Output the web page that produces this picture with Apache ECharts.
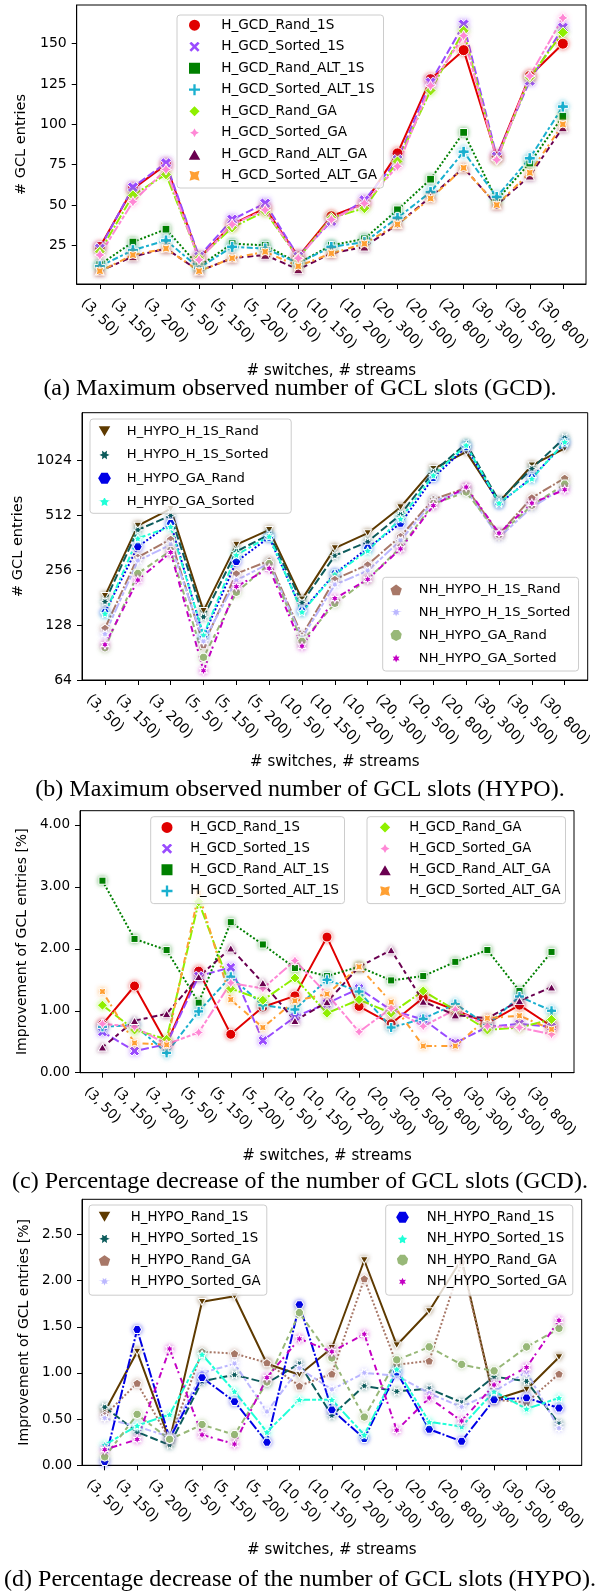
<!DOCTYPE html>
<html>
<head>
<meta charset="utf-8">
<script src="https://cdn.jsdelivr.net/npm/echarts@6/dist/echarts.min.js"></script>
<style>
  html, body { margin: 0; padding: 0; background: #fff; }
  #main { width: 600px; height: 1593px; }
</style>
</head>
<body>
<div id="main"></div>
<script>
// ---- data ----
var cats = ['(3, 50)', '(3, 150)', '(3, 200)', '(5, 50)', '(5, 150)', '(5, 200)', '(10, 50)', '(10, 150)',
            '(10, 200)', '(20, 300)', '(20, 500)', '(20, 800)', '(30, 300)', '(30, 500)', '(30, 800)'];

// (a) max GCL slots, GCD
var gcdNames = ['H_GCD_Rand_1S', 'H_GCD_Sorted_1S', 'H_GCD_Rand_ALT_1S', 'H_GCD_Sorted_ALT_1S',
                'H_GCD_Rand_GA', 'H_GCD_Sorted_GA', 'H_GCD_Rand_ALT_GA', 'H_GCD_Sorted_ALT_GA'];
var gcdRand1S      = [24, 60, 75, 17, 38, 48, 18, 43, 51, 82, 128, 146, 80, 130, 150];
var gcdSorted1S    = [23, 61, 76, 18, 41, 51, 18, 40, 53, 78, 126, 162, 80, 127, 160];
var gcdRandAlt1S   = [13, 27, 35, 12, 26, 25, 14, 25, 29, 47, 66, 95, 53, 76, 105];
var gcdSortedAlt1S = [12, 22, 28, 11, 24, 23, 14, 24, 27, 42, 58, 83, 55, 79, 111];
var gcdRandGA      = [21, 56, 69, 17, 36, 46, 17, 42, 48, 77, 121, 158, 78, 129, 157];
var gcdSortedGA    = [19, 52, 72, 16, 38, 47, 17, 41, 51, 74, 124, 155, 78, 130, 166];
var gcdRandAltGA   = [9, 18, 23, 9, 17, 19, 10, 20, 24, 38, 55, 73, 50, 68, 98];
var gcdSortedAltGA = [9, 19, 23, 9, 17, 21, 12, 20, 26, 38, 54, 73, 50, 70, 100];

// (b) max GCL slots, HYPO (log2 axis)
var hypoNames = ['H_HYPO_H_1S_Rand', 'H_HYPO_H_1S_Sorted', 'H_HYPO_GA_Rand', 'H_HYPO_GA_Sorted',
                 'NH_HYPO_H_1S_Rand', 'NH_HYPO_H_1S_Sorted', 'NH_HYPO_GA_Rand', 'NH_HYPO_GA_Sorted'];
var hypoH1SRand   = [185, 449, 555, 153, 353, 425, 177, 338, 408, 566, 918, 1138, 604, 961, 1190];
var hypoH1SSorted = [172, 425, 510, 142, 324, 401, 170, 307, 366, 516, 884, 1265, 612, 922, 1360];
var hypoGARand    = [150, 344, 462, 111, 285, 387, 153, 245, 338, 462, 822, 1212, 591, 822, 1276];
var hypoGASorted  = [148, 382, 443, 113, 310, 392, 151, 243, 327, 489, 847, 1238, 597, 812, 1290];
var nhH1SRand     = [123, 301, 378, 100, 245, 288, 112, 228, 274, 392, 625, 721, 404, 638, 818];
var nhH1SSorted   = [114, 288, 353, 104, 225, 279, 109, 213, 254, 372, 610, 700, 387, 566, 730];
var nhGARand      = [96, 245, 327, 85, 193, 277, 104, 168, 228, 341, 591, 685, 400, 579, 756];
var nhGASorted    = [100, 226, 320, 72, 208, 262, 98, 179, 228, 335, 578, 730, 408, 596, 706];

// (c) percentage decrease, GCD
var impRand1S      = [0.78, 1.40, 0.47, 1.64, 0.62, 1.06, 1.24, 2.19, 1.07, 0.79, 1.21, 1.01, 0.80, 1.09, 0.75];
var impSorted1S    = [0.66, 0.35, 0.46, 1.56, 1.70, 0.52, 0.90, 1.12, 1.36, 1.01, 0.86, 0.48, 0.74, 0.79, 0.74];
var impRandAlt1S   = [3.10, 2.16, 1.98, 1.13, 2.43, 2.07, 1.69, 1.56, 1.71, 1.49, 1.56, 1.79, 1.98, 1.32, 1.95];
var impSortedAlt1S = [0.74, 0.77, 0.32, 0.99, 1.55, 1.09, 1.02, 1.50, 1.31, 0.73, 0.87, 1.11, 0.77, 1.23, 1.00];
var impRandGA      = [1.09, 0.69, 0.54, 2.76, 1.36, 1.17, 1.53, 0.96, 1.18, 0.96, 1.32, 1.01, 0.69, 0.73, 0.86];
var impSortedGA    = [0.79, 0.74, 0.46, 0.65, 1.45, 1.36, 1.81, 1.27, 0.66, 1.04, 0.75, 1.02, 0.75, 0.73, 0.62];
var impRandAltGA   = [0.41, 0.84, 0.95, 1.55, 2.01, 1.45, 0.84, 1.14, 1.71, 1.98, 1.15, 0.93, 0.88, 1.16, 1.38];
var impSortedAltGA = [1.31, 0.48, 0.45, 2.90, 1.18, 0.73, 1.16, 1.27, 1.71, 1.14, 0.43, 0.43, 0.88, 0.92, 0.70];

// (d) percentage decrease, HYPO
var decNames = ['H_HYPO_Rand_1S', 'H_HYPO_Sorted_1S', 'H_HYPO_Rand_GA', 'H_HYPO_Sorted_GA',
                'NH_HYPO_Rand_1S', 'NH_HYPO_Sorted_1S', 'NH_HYPO_Rand_GA', 'NH_HYPO_Sorted_GA'];
var decHRand1S    = [0.58, 1.23, 0.27, 1.77, 1.83, 1.10, 0.98, 1.27, 2.22, 1.30, 1.67, 2.23, 0.71, 0.82, 1.17];
var decHSorted1S  = [0.63, 0.36, 0.22, 0.91, 0.98, 0.89, 1.10, 0.54, 0.86, 0.80, 0.83, 0.68, 0.96, 0.91, 0.45];
var decHRandGA    = [0.54, 0.89, 0.28, 1.23, 1.21, 1.11, 0.86, 0.99, 2.02, 1.09, 1.13, 2.20, 0.71, 0.68, 0.99];
var decHSortedGA  = [0.51, 0.42, 0.31, 1.00, 1.10, 0.58, 1.05, 0.82, 1.00, 0.97, 0.78, 0.63, 0.80, 1.01, 0.40];
var decNHRand1S   = [0.04, 1.47, 0.29, 0.95, 0.69, 0.25, 1.74, 0.60, 0.29, 1.01, 0.39, 0.26, 0.71, 0.73, 0.62];
var decNHSorted1S = [0.22, 0.43, 0.55, 1.20, 0.80, 0.36, 0.71, 0.71, 0.33, 1.04, 0.47, 0.42, 0.80, 0.61, 0.73];
var decNHRandGA   = [0.09, 0.55, 0.28, 0.44, 0.33, 0.90, 1.65, 1.16, 0.52, 1.14, 1.28, 1.09, 1.02, 1.28, 1.48];
var decNHSortedGA = [0.17, 0.28, 1.26, 0.33, 0.23, 0.95, 1.37, 1.23, 1.42, 0.38, 0.73, 0.48, 0.87, 1.06, 1.57];

// ---- markers (seaborn style) ----
function fromPts(pts) {
    var xs = pts.map(function (p) { return p[0]; }), ys = pts.map(function (p) { return p[1]; });
    return {
        symbol: 'path://M' + pts.map(function (p) { return (p[0] * 20).toFixed(2) + ',' + (-p[1] * 20).toFixed(2); }).join('L') + 'Z',
        fw: Math.max.apply(null, xs) - Math.min.apply(null, xs),
        fh: Math.max.apply(null, ys) - Math.min.apply(null, ys)
    };
}
function poly(n, star, rot) {
    var k = star ? 2 * n : n, pts = [];
    for (var i = 0; i < k; i++) {
        var r = (star && i % 2) ? 0.25 : 0.5;
        var t = Math.PI / 2 + 2 * Math.PI * i / k + rot * Math.PI / 180;
        pts.push([r * Math.cos(t), r * Math.sin(t)]);
    }
    return fromPts(pts);
}
function scaled(arr, s) { return arr.map(function (p) { return [p[0] / s, p[1] / s]; }); }
var mk = {
    circle: { symbol: 'circle', fw: 1, fh: 1 },
    x: fromPts(scaled([[-1, -2], [0, -1], [1, -2], [2, -1], [1, 0], [2, 1], [1, 2], [0, 1], [-1, 2], [-2, 1], [-1, 0], [-2, -1]], 4)),
    plus: fromPts(scaled([[-1, -3], [-1, -1], [-3, -1], [-3, 1], [-1, 1], [-1, 3], [1, 3], [1, 1], [3, 1], [3, -1], [1, -1], [1, -3]], 6)),
    square: poly(4, false, 45),
    diamond: poly(4, false, 0),
    star4: poly(4, true, 0),
    triUp: poly(3, false, 0),
    star4r: poly(4, true, 45),
    triDown: poly(3, false, 180),
    star6r: poly(6, true, 30),
    hexagon: poly(6, false, 30),
    star5: poly(5, true, 0),
    pentagon: poly(5, false, 0),
    star7: poly(7, true, 360 / 14),
    heptagon: poly(7, false, 360 / 14),
    star6: poly(6, true, 0)
};
var dashes = ['solid', [4, 1.5], [1, 1], [3, 1.25, 1.5, 1.25], [5, 1, 1, 1], [5, 1, 2, 1, 2, 1], [2, 2, 3, 1.5], [1, 2.5, 3, 1.2]];

var gcdColors = ['#e00000', '#9a4cff', '#008000', '#1ab0cf', '#8ff000', '#ff88d6', '#6a0050', '#ffa033'];
var gcdMarkers = [mk.circle, mk.x, mk.square, mk.plus, mk.diamond, mk.star4, mk.triUp, mk.star4r];

var hypoColors = ['#5e3a00', '#0d5c5c', '#0000e6', '#20ffd8', '#a87868', '#bcb8ff', '#98b878', '#c400c4'];
var hypoMarkers = [mk.triDown, mk.star6r, mk.hexagon, mk.star5, mk.pentagon, mk.star7, mk.heptagon, mk.star6];

// (d) uses the same palette, in a different order
var decColors = [hypoColors[0], hypoColors[1], hypoColors[4], hypoColors[5], hypoColors[2], hypoColors[3], hypoColors[6], hypoColors[7]];
var decMarkers = [hypoMarkers[0], hypoMarkers[1], hypoMarkers[4], hypoMarkers[5], hypoMarkers[2], hypoMarkers[3], hypoMarkers[6], hypoMarkers[7]];

var FONT = 'DejaVu Sans';
var idx = cats.map(function (c, i) { return i; });

function rgba(hex, a) {
    var n = parseInt(hex.slice(1), 16);
    return 'rgba(' + (n >> 16) + ',' + ((n >> 8) & 255) + ',' + (n & 255) + ',' + a + ')';
}

var ctx = document.createElement('canvas').getContext('2d');
function textW(s, size) { ctx.font = size + 'px "' + FONT + '"'; return ctx.measureText(s).width; }

function lineSeries(name, values, gi, color, marker, dash, size) {
    return {
        name: name, type: 'line', xAxisIndex: gi, yAxisIndex: gi,
        data: values.map(function (v, i) { return [i, v]; }),
        symbol: marker.symbol,
        symbolSize: [size * marker.fw, size * marker.fh],
        showAllSymbol: true,
        lineStyle: { color: color, width: 2, type: dash === 'solid' ? 'solid' : dash.map(function (d) { return d * 2; }) },
        itemStyle: { color: color, borderColor: '#fff', borderWidth: 1, shadowColor: rgba(color, 0.5), shadowBlur: 4 },
        emphasis: { disabled: true }
    };
}

// rotated tick labels, centred on the tick like matplotlib (ha=center, va=top)
function xAxisFor(gi, fontSize, nameGap) {
    var widths = cats.map(function (c) { return textW(c, fontSize); });
    var lmin = Math.min.apply(null, widths);
    var rich = {};
    widths.forEach(function (w, i) {
        var p = 0.5 * (w - lmin);
        rich['s' + i] = { padding: [p, 0, 0, p], fontSize: fontSize, fontFamily: FONT, color: '#000' };
    });
    return {
        type: 'value', gridIndex: gi, min: -0.7, max: 14.7,
        splitLine: { show: false },
        axisLine: { show: true, onZero: false, lineStyle: { color: '#000', width: 1 } },
        axisTick: { show: true, customValues: idx, length: 5, lineStyle: { color: '#000' } },
        axisLabel: {
            customValues: idx, rotate: -45, align: 'center', verticalAlign: 'middle',
            margin: 12 + 0.3536 * (lmin + fontSize),
            formatter: function (v) { var k = Math.round(v); return '{s' + k + '|' + cats[k] + '}'; },
            rich: rich
        },
        name: '# switches, # streams', nameLocation: 'middle', nameGap: nameGap,
        nameTextStyle: { fontFamily: FONT, fontSize: 15, color: '#000' }
    };
}

function yBase(gi, fontSize, name, nameGap) {
    return {
        gridIndex: gi,
        splitLine: { show: false },
        axisLine: { show: true, onZero: false, lineStyle: { color: '#000', width: 1 } },
        axisTick: { show: true, length: 5, lineStyle: { color: '#000' } },
        axisLabel: { fontFamily: FONT, fontSize: fontSize, color: '#000', margin: 10 },
        name: name, nameLocation: 'middle', nameGap: nameGap,
        nameTextStyle: { fontFamily: FONT, fontSize: fontSize + 0.5, color: '#000' }
    };
}

// legend box laid out like the matplotlib one: box edges, marker centre x, text start x, first row y, row pitch
function legendFor(names, markers, box, markerX, textX, firstY, pitch, fontSize) {
    var rowH = fontSize + 0.4;
    var padL = markerX - box[0] - 10;
    var textPad = textX - (box[0] + padL + 25);
    var maxW = Math.max.apply(null, names.map(function (n) { return textW(n, fontSize); }));
    var padR = Math.max(2, box[2] - (textX + maxW));
    var lastY = firstY + pitch * (names.length - 1);
    var padT = firstY - box[1] - rowH / 2;
    var padB = box[3] - (lastY + rowH / 2);
    return {
        left: box[0], top: box[1], orient: 'vertical',
        itemWidth: 20, itemHeight: 13, itemGap: pitch - rowH,
        padding: [padT, padR, padB, padL], selectedMode: false,
        backgroundColor: 'rgba(255,255,255,0.8)', borderColor: '#cccccc', borderWidth: 1, borderRadius: 3,
        textStyle: { fontFamily: FONT, fontSize: fontSize, color: '#000', padding: [0, 0, 0, textPad] },
        data: names.map(function (n, i) { return { name: n, icon: markers[i].symbol }; })
    };
}

var gcdData = [gcdRand1S, gcdSorted1S, gcdRandAlt1S, gcdSortedAlt1S, gcdRandGA, gcdSortedGA, gcdRandAltGA, gcdSortedAltGA];
var hypoData = [hypoH1SRand, hypoH1SSorted, hypoGARand, hypoGASorted, nhH1SRand, nhH1SSorted, nhGARand, nhGASorted];
var impData = [impRand1S, impSorted1S, impRandAlt1S, impSortedAlt1S, impRandGA, impSortedGA, impRandAltGA, impSortedAltGA];
var decData = [decHRand1S, decHSorted1S, decHRandGA, decHSortedGA, decNHRand1S, decNHSorted1S, decNHRandGA, decNHSortedGA];

var series = [];
gcdData.forEach(function (d, i) { series.push(lineSeries(gcdNames[i], d, 0, gcdColors[i], gcdMarkers[i], dashes[i], 11)); });
hypoData.forEach(function (d, i) { series.push(lineSeries(hypoNames[i], d, 1, hypoColors[i], hypoMarkers[i], dashes[i], 9)); });
impData.forEach(function (d, i) { series.push(lineSeries(gcdNames[i], d, 2, gcdColors[i], gcdMarkers[i], dashes[i], 10)); });
decData.forEach(function (d, i) { series.push(lineSeries(decNames[i], d, 3, decColors[i], decMarkers[i], dashes[i], 9)); });

var capStyle = { fontFamily: 'Liberation Serif', fontSize: 24, fontWeight: 'normal', color: '#000' };

var yA = yBase(0, 14, '# GCL entries', 43);
yA.type = 'value'; yA.min = 1; yA.max = 174;
yA.axisTick.customValues = [25, 50, 75, 100, 125, 150];
yA.axisLabel.customValues = [25, 50, 75, 100, 125, 150];

var yB = yBase(1, 14, '# GCL entries', 47);
yB.type = 'log'; yB.logBase = 2; yB.min = 64; yB.max = 1866;
yB.axisLabel.showMaxLabel = false;
yB.axisLabel.formatter = function (v) { return String(Math.round(v)); };

var yC = yBase(2, 13.5, 'Improvement of GCL entries [%]', 47);
yC.type = 'value'; yC.min = 0; yC.max = 4.23; yC.interval = 1;
yC.axisLabel.showMaxLabel = false;
yC.axisLabel.formatter = function (v) { return v.toFixed(2); };

var yD = yBase(3, 13.5, 'Improvement of GCL entries [%]', 47);
yD.type = 'value'; yD.min = 0; yD.max = 2.88; yD.interval = 0.5;
yD.axisLabel.showMaxLabel = false;
yD.axisLabel.formatter = function (v) { return v.toFixed(2); };

var option = {
    animation: false,
    backgroundColor: '#fff',
    title: [
        { text: '(a) Maximum observed number of GCL slots (GCD).', left: 'center', top: 377, padding: 0, textStyle: capStyle },
        { text: '(b) Maximum observed number of GCL slots (HYPO).', left: 'center', top: 778, padding: 0, textStyle: capStyle },
        { text: '(c) Percentage decrease of the number of GCL slots (GCD).', left: 'center', top: 1170, padding: 0, textStyle: capStyle },
        { text: '(d) Percentage decrease of the number of GCL slots (HYPO).', left: 'center', top: 1568, padding: 0, textStyle: capStyle }
    ],
    grid: [
        { left: 76.7, top: 5, width: 509.3, height: 279, show: true, borderColor: '#000', borderWidth: 1 },
        { left: 82, top: 412.7, width: 505.7, height: 267.3, show: true, borderColor: '#000', borderWidth: 1 },
        { left: 80, top: 810.7, width: 494, height: 262, show: true, borderColor: '#000', borderWidth: 1 },
        { left: 82, top: 1199.3, width: 499.7, height: 266, show: true, borderColor: '#000', borderWidth: 1 }
    ],
    xAxis: [xAxisFor(0, 14, 80), xAxisFor(1, 14, 75), xAxisFor(2, 13.5, 76), xAxisFor(3, 13.5, 77)],
    yAxis: [yA, yB, yC, yD],
    legend: [
        legendFor(gcdNames, gcdMarkers, [177, 15, 385, 180], 196, 222.7, 24.7, 20.5, 13.6),
        legendFor(hypoNames.slice(0, 4), hypoMarkers.slice(0, 4), [90, 419, 292.7, 507.3], 106, 128.3, 431, 21.7, 13.1),
        legendFor(hypoNames.slice(4), hypoMarkers.slice(4), [382.7, 577.3, 580.7, 665], 398.3, 421, 589, 21.4, 13.1),
        legendFor(gcdNames.slice(0, 4), gcdMarkers.slice(0, 4), [150.7, 816.7, 347, 898], 169.5, 192.7, 826.7, 19.8, 13.2),
        legendFor(gcdNames.slice(4), gcdMarkers.slice(4), [367, 816.7, 567, 898], 386.5, 410.7, 826.7, 19.8, 13.2),
        legendFor(decNames.slice(0, 4), decMarkers.slice(0, 4), [89, 1205, 268.3, 1290], 106, 132.3, 1216.7, 20.2, 13.3),
        legendFor(decNames.slice(4), decMarkers.slice(4), [385.7, 1205, 574.3, 1290], 404, 428.3, 1216.7, 20.2, 13.3)
    ],
    series: series
};

var chart = echarts.init(document.getElementById('main'), null, { renderer: 'canvas' });
chart.setOption(option);
</script>
</body>
</html>
